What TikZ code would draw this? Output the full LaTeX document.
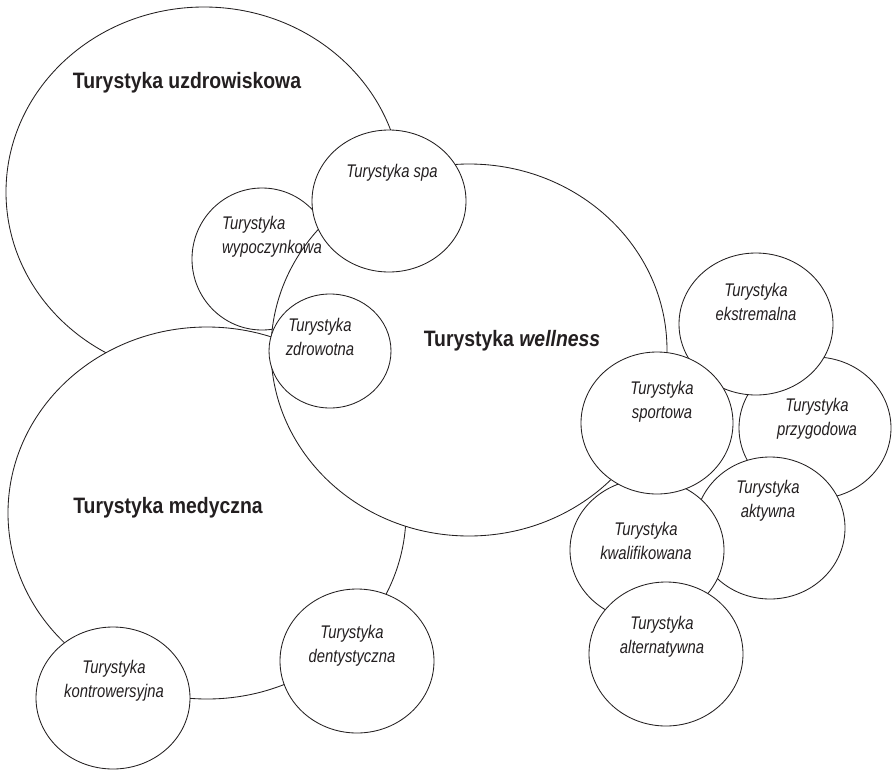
\documentclass[tikz,border=0pt]{standalone}
\usepackage{fontspec}
\usetikzlibrary{shapes.geometric}
\newfontfamily\boldlab[FakeStretch=0.87]{Liberation Sans}
\newfontfamily\itlab[FakeStretch=0.81]{Liberation Sans}
\definecolor{ink}{HTML}{231F20}
\newcommand\twol[2]{\rule{0pt}{13.5pt}#1\\#2\rule[-4pt]{0pt}{4pt}}
\begin{document}
\begin{tikzpicture}[x=1pt,y=-1pt,
  bub/.style={ellipse, draw=ink, fill=white, line width=0.85pt, inner sep=0pt, outer sep=0pt},
  biglab/.style={font=\boldlab\bfseries\fontsize{22.3}{26}\selectfont, text=ink, inner sep=0pt, anchor=base},
  smalllab/.style={font=\itlab\itshape\fontsize{18.3}{23.7}\selectfont, text=ink, inner sep=0pt, align=center}]
\useasboundingbox (0,0) rectangle (892,769);
% shapes, back to front
\node[bub, minimum width=396pt, minimum height=370pt] (uzd) at (204,192) {};
\node[bub, minimum width=140pt, minimum height=142pt] (wyp) at (262,259) {};
\node[bub, minimum width=398pt, minimum height=372pt] (med) at (207,513) {};
\node[bub, minimum width=396pt, minimum height=372pt] (wel) at (469,350) {};
\node[bub, minimum width=154pt, minimum height=142pt] (spa) at (389,201) {};
\node[bub, minimum width=122pt, minimum height=114pt] (zdr) at (330,351) {};
\node[bub, minimum width=152pt, minimum height=142pt] (prz) at (815,428) {};
\node[bub, minimum width=154pt, minimum height=142pt] (eks) at (756,324) {};
\node[bub, minimum width=150pt, minimum height=142pt] (akt) at (770,528) {};
\node[bub, minimum width=154pt, minimum height=142pt] (kwa) at (647,550) {};
\node[bub, minimum width=152pt, minimum height=142pt] (spo) at (657,423) {};
\node[bub, minimum width=154pt, minimum height=144pt] (alt) at (666,654) {};
\node[bub, minimum width=154pt, minimum height=144pt] (den) at (357,661) {};
\node[bub, minimum width=154pt, minimum height=142pt] (kon) at (113,698) {};
% labels
\node[biglab] (tuzd) at (187,88.5) {Turystyka uzdrowiskowa};
\node[biglab] (twel) at (512,346.5) {Turystyka \textit{wellness}};
\node[biglab] (tmed) at (168,513) {Turystyka medyczna};
\node[smalllab, anchor=base] (tspa) at (392,177) {Turystyka spa};
\node[smalllab, align=left, anchor=west] (twyp) at (222,237) {\twol{Turystyka}{wypoczynkowa}};
\node[smalllab] (tzdr) at (320,339) {\twol{Turystyka}{zdrowotna}};
\node[smalllab] (teks) at (756,304) {\twol{Turystyka}{ekstremalna}};
\node[smalllab] (tspo) at (662,402) {\twol{Turystyka}{sportowa}};
\node[smalllab] (tprz) at (817,419) {\twol{Turystyka}{przygodowa}};
\node[smalllab] (takt) at (768,501) {\twol{Turystyka}{aktywna}};
\node[smalllab] (tkwa) at (646,543) {\twol{Turystyka}{kwalifikowana}};
\node[smalllab] (talt) at (662,637) {\twol{Turystyka}{alternatywna}};
\node[smalllab] (tden) at (352,646) {\twol{Turystyka}{dentystyczna}};
\node[smalllab] (tkon) at (114,681) {\twol{Turystyka}{kontrowersyjna}};
\end{tikzpicture}
\end{document}
